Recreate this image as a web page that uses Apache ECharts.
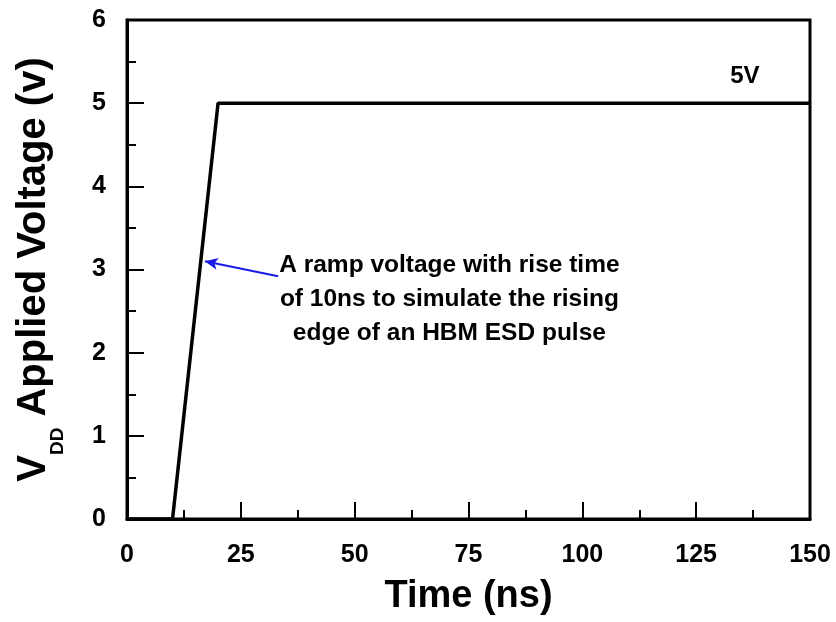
<!DOCTYPE html>
<html>
<head>
<meta charset="utf-8">
<script src="https://cdn.jsdelivr.net/npm/echarts@6/dist/echarts.min.js"></script>
<style>html,body{margin:0;padding:0;background:#fff;}#c{width:836px;height:622px;}</style>
</head>
<body>
<div id="c"></div>
<script>
// Data
const timeNs = [0, 10, 20, 150];
const voltage = [0, 0, 5, 5];
const xTicks = [0, 25, 50, 75, 100, 125, 150];
const yTicks = [0, 1, 2, 3, 4, 5, 6];
const arrowFrom = [33.2, 2.92];
const arrowTo = [17.1, 3.1];
const noteText = 'A ramp voltage with rise time\nof 10ns to simulate the rising\nedge of an HBM ESD pulse';
const notePos = [70.8, 2.64];
const levelText = '5V';
const levelPos = [135.7, 5.32];

const FONT = '"Liberation Sans", Arial, sans-serif';
const chart = echarts.init(document.getElementById('c'), null, {renderer: 'canvas'});
const pts = timeNs.map((t, i) => [t, voltage[i]]);

chart.setOption({
  backgroundColor: '#fff',
  animation: false,
  grid: {left: 127, right: 26, top: 20, bottom: 103, show: true, borderColor: '#000', borderWidth: 3, backgroundColor: 'transparent', containLabel: false, outerBoundsMode: 'none'},
  xAxis: {
    type: 'value', min: xTicks[0], max: xTicks[xTicks.length - 1], interval: 25,
    name: 'Time (ns)', nameLocation: 'middle', nameGap: 59,
    nameTextStyle: {fontFamily: FONT, fontWeight: 'bold', fontSize: 38, color: '#000'},
    axisLine: {show: true, lineStyle: {color: '#000', width: 3}},
    axisTick: {show: true, inside: true, length: 17, lineStyle: {color: '#000', width: 2}},
    minorTick: {show: true, splitNumber: 2, length: 9, lineStyle: {color: '#000', width: 2}},
    axisLabel: {margin: 24, fontFamily: FONT, fontWeight: 'bold', fontSize: 25, color: '#000'},
    splitLine: {show: false}
  },
  yAxis: {
    type: 'value', min: yTicks[0], max: yTicks[yTicks.length - 1], interval: 1,
    name: '{a|V}{s|DD}{a| Applied Voltage (v)}', nameLocation: 'middle', nameRotate: 90, nameGap: 60,
    nameTextStyle: {
      fontFamily: FONT, fontWeight: 'bold', color: '#000',
      rich: {
        a: {fontFamily: FONT, fontWeight: 'bold', fontSize: 40, lineHeight: 40, padding: [0, 0, 13, 0], verticalAlign: 'bottom', color: '#000'},
        s: {fontFamily: FONT, fontWeight: 'bold', fontSize: 19, lineHeight: 19, verticalAlign: 'bottom', color: '#000'}
      }
    },
    axisLine: {show: true, lineStyle: {color: '#000', width: 3}},
    axisTick: {show: true, inside: true, length: 17, lineStyle: {color: '#000', width: 2}},
    minorTick: {show: true, splitNumber: 2, length: 9, lineStyle: {color: '#000', width: 2}},
    axisLabel: {margin: 21, fontFamily: FONT, fontWeight: 'bold', fontSize: 25, color: '#000'},
    splitLine: {show: false}
  },
  series: [{
    type: 'line',
    data: pts,
    showSymbol: false,
    lineStyle: {color: '#000', width: 3.5},
    markLine: {
      silent: true,
      symbol: ['none', 'arrow'],
      symbolSize: [9, 13],
      lineStyle: {color: '#1a1ae6', width: 2, type: 'solid'},
      label: {show: false},
      data: [[{coord: arrowFrom}, {coord: arrowTo}]]
    },
    markPoint: {
      silent: true,
      symbol: 'circle', symbolSize: 0,
      data: [
        {coord: notePos, label: {show: true, formatter: noteText, position: 'inside', align: 'center', verticalAlign: 'middle', lineHeight: 34, fontFamily: FONT, fontWeight: 'bold', fontSize: 24.5, color: '#000'}},
        {coord: levelPos, label: {show: true, formatter: levelText, position: 'inside', align: 'center', verticalAlign: 'middle', fontFamily: FONT, fontWeight: 'bold', fontSize: 24, color: '#000'}}
      ]
    }
  }]
});
</script>
</body>
</html>
